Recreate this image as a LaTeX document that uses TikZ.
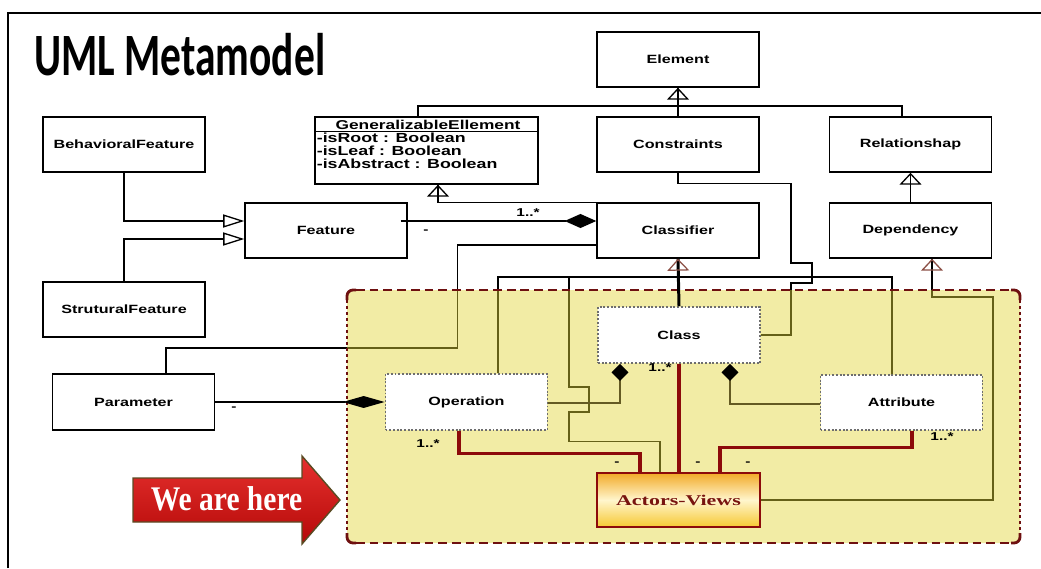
\documentclass[tikz,border=0pt]{standalone}
\usepackage{graphicx}
\usepackage{fontspec}
\setmainfont{Liberation Serif}
\setsansfont{Liberation Sans}
\newfontfamily\titlefont{Carlito}
\usetikzlibrary{arrows.meta,calc,decorations.markings}

\definecolor{zoneyellow}{RGB}{226,213,55}
\definecolor{zonered}{RGB}{110,16,16}
\definecolor{linkred}{RGB}{140,10,10}
\definecolor{tribrown}{RGB}{140,80,70}
\definecolor{dotgray}{RGB}{110,110,110}
\definecolor{wireolive}{RGB}{100,90,35}
\definecolor{avtop}{RGB}{242,170,40}
\definecolor{avmid}{RGB}{255,246,205}
\definecolor{avbot}{RGB}{246,200,50}
\definecolor{avtext}{RGB}{120,20,15}
\definecolor{herered}{RGB}{226,12,10}
\definecolor{hereedge}{RGB}{90,75,35}

\pgfdeclarelayer{wires}
\pgfdeclarelayer{zone}
\pgfsetlayers{wires,zone,main}

\newcommand{\wide}[1]{\scalebox{1.35}[1]{#1}}

\tikzset{
  umlbox/.style={draw, line width=0.85pt, fill=white, minimum width=3.24cm, minimum height=1.1cm,
    font=\sffamily\bfseries\fontsize{6.8}{8}\selectfont},
  dotbox/.style={umlbox, draw=dotgray, line width=1.1pt, dash pattern=on 1.1pt off 1pt},
  wire/.style={line width=0.75pt},
  genh/.style={wire, -{Triangle[open, length=12pt, width=7.4pt]}},
  genv/.style={wire, postaction={decorate}, decoration={markings,
    mark=at position 1 with {\arrow{Triangle[open, length=6.8pt, width=12.5pt, color=#1]}}}},
  genv/.default=black,
  genthick/.style={line width=1.7pt, postaction={decorate}, decoration={markings,
    mark=at position 1 with {\arrow{Triangle[open, length=6.8pt, width=12.5pt, line width=0.7pt, color=tribrown]}}}},
  compH/.style={wire, -{Diamond[length=18pt, width=8pt]}},
  compOp/.style={wire, -{Diamond[length=23.8pt, width=6.8pt]}},
  compV/.style={wire, draw=wireolive, -{Diamond[length=9.6pt, width=9.6pt, color=black]}},
  redlink/.style={draw=linkred, line width=2pt},
  zoneedge/.style={draw=zonered, line width=1.6pt},
  tag/.style={inner sep=0pt, font=\sffamily\bfseries\fontsize{6.5}{7}\selectfont}
}

\begin{document}
\begin{tikzpicture}[x=0.02cm, y=-0.02cm]
\useasboundingbox (0,0) rectangle (1041,568);
\draw[line width=0.9pt] (8,568) -- (8,13) -- (1041,13);

\node[anchor=base west, inner sep=0pt, font=\titlefont\bfseries\fontsize{23.6}{28}\selectfont] (title) at (34,75) {\scalebox{1}[1.45]{UML Metamodel}};

% classes
\node[umlbox] (elem) at (678,59.5) {\wide{Element}};
\node[umlbox] (cons) at (678,144.5) {\wide{Constraints}};
\node[umlbox] (rel) at (910.5,144.5) {\wide{Relationshap}};
\node[umlbox, minimum width=4.46cm, minimum height=1.34cm] (ge) at (426.5,150.5) {};
\node[inner sep=0pt, font=\sffamily\bfseries\fontsize{7.3}{8}\selectfont] (gehead) at (428,124.5) {\wide{GeneralizableEllement}};
\node[anchor=north west, align=left, inner sep=0pt, font=\sffamily\bfseries\fontsize{7.5}{7.4}\selectfont] (geattr) at (316.5,132.5)
  {\wide{-isRoot : Boolean}\\\wide{-isLeaf : Boolean}\\\wide{-isAbstract : Boolean}};
\draw[line width=0.85pt] ($(ge.north west)+(0,15)$) -- ($(ge.north east)+(0,15)$);

\node[umlbox] (bf) at (124,144.5) {\wide{BehavioralFeature}};
\node[umlbox] (feat) at (326,230.5) {\wide{Feature}};
\node[umlbox] (sf) at (124,309.5) {\wide{StruturalFeature}};
\node[umlbox] (clsf) at (678,230.5) {\wide{Classifier}};
\node[umlbox] (dep) at (910.5,230.5) {\wide{Dependency}};
\node[umlbox, minimum height=1.12cm] (param) at (133.5,402) {\wide{Parameter}};

\node[dotbox, minimum height=1.12cm] (oper) at (466.5,402) {\wide{Operation}};
\node[dotbox, minimum height=1.12cm] (class) at (679,335) {\wide{Class}};
\node[dotbox] (attr) at (901.5,402.5) {\wide{Attribute}};
\node[draw=linkred, line width=1.6pt, top color=avtop, bottom color=avbot, middle color=avmid,
  minimum width=3.26cm, minimum height=1.08cm, font=\rmfamily\bfseries\fontsize{8.5}{10}\selectfont, text=avtext]
  (av) at (678.5,500) {\scalebox{1.47}[1]{Actors-Views}};

% thin links, under the zone
\begin{pgfonlayer}{wires}
\coordinate (topbus) at (678,106);
\coordinate (genbus) at (678,277);
\coordinate (busjoin) at (569,277);
\draw[genv] (cons.north) -- (elem.south);
\draw[wire] ($(ge.north)+(-8.5,0)$) |- (topbus) -| ($(rel.north)+(-8.5,0)$);
\draw[genv] (dep.north) -- (rel.south);
\draw[genh] (bf.south) |- ($(feat.west)+(0,-9.5)$);
\draw[genh] (sf.north) |- ($(feat.west)+(0,8.5)$);
\draw[genv] (clsf.north west) -| ($(ge.south)+(11.5,0)$);
\draw[wire] ($(clsf.west)+(0,14.5)$) -- ++(-139,0) -- ++(0,103) -| ($(param.north)+(32.5,0)$);
\draw[wire] (cons.south) -- ++(0,11) -| (791,263) -- ++(21,0) -- ++(0,20) -- ++(-21,0) |- (class.east);
\draw[wire] ($(oper.north)+(31.5,0)$) |- (genbus) -| ($(attr.north)+(-9.5,0)$);
\draw[wire] (busjoin) -- (569,387) -- ++(20,0) -- ++(0,25) -- ++(-20,0) |- ($(av.north)+(-18.5,-30)$) -- ($(av.north)+(-18.5,0)$);
\draw[genv=tribrown] (av.east) -| (993,297) -| ($(dep.south)+(21.5,0)$);
\end{pgfonlayer}

% we are here zone
\begin{pgfonlayer}{zone}
\fill[zoneyellow, fill opacity=0.45, rounded corners=3.4pt] (347,290) rectangle (1020,543);
\draw[zoneedge, dash pattern=on 5pt off 2.8pt] (356,290) -- (1011,290) (356,543) -- (1011,543);
\draw[zoneedge, dash pattern=on 1.7pt off 1.7pt] (347,300) -- (347,533) (1020,300) -- (1020,533);
\draw[zoneedge, rounded corners=3.4pt] (347,300) |- (356,290) (1011,290) -| (1020,300)
  (1020,533) |- (1011,543) (356,543) -| (347,533);
\end{pgfonlayer}

% links on top
\draw[compH] ($(feat.east)+(-7,-9.5)$) -- ($(clsf.west)+(0,-9.5)$);
\draw[compOp] (param.east) -- (oper.west);
\draw[compV] ($(oper.east)+(0,1)$) -| ($(class.south)+(-59,0)$);
\draw[compV] ($(attr.west)+(0,1.5)$) -| ($(class.south)+(51,0)$);
\draw[genthick] (class.north) -- (clsf.south);
\draw[redlink] ($(oper.south)+(-7.5,0)$) |- ($(av.north)+(-38.5,-18)$) -- ($(av.north)+(-38.5,0)$);
\draw[redlink] (class.south) -- (class.south |- av.north);
\draw[redlink] ($(attr.south)+(10.5,0)$) |- ($(av.north)+(41.5,-24)$) -- ($(av.north)+(41.5,0)$);

% multiplicities
\node[tag] (m1) at (528,213) {\wide{1..*}};
\node[tag] (m2) at (426,232) {\wide{-}};
\node[tag] (m3) at (234,409) {\wide{-}};
\node[tag] (m4) at (428,444) {\wide{1..*}};
\node[tag] (m5) at (660,368) {\wide{1..*}};
\node[tag] (m6) at (942,437) {\wide{1..*}};
\node[tag] (m7) at (617,464) {\wide{-}};
\node[tag] (m8) at (698,464) {\wide{-}};
\node[tag] (m9) at (748,464) {\wide{-}};

% pointer
\draw[draw=hereedge, line width=0.8pt, top color=herered!85!white, bottom color=herered!80!black]
  (133,478) -- (302,478) -- (302,456) -- (340,500) -- (302,544) -- (302,522) -- (133,522) -- cycle;
\node[anchor=base, inner sep=0pt, text=white, font=\rmfamily\bfseries\fontsize{16.8}{20}\selectfont] (here) at (226.5,510)
  {\scalebox{1}[1.17]{We are here}};
\end{tikzpicture}
\end{document}
